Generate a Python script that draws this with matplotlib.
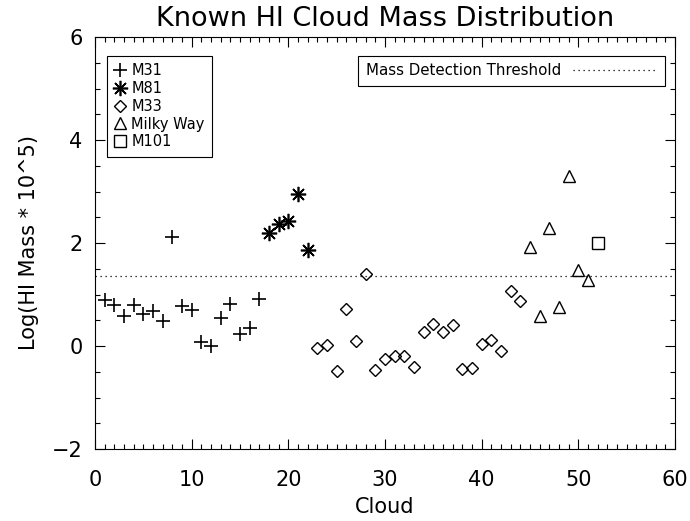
import matplotlib
matplotlib.use("Agg")
import matplotlib.pyplot as plt
from matplotlib.ticker import MultipleLocator

plt.rcParams['font.family'] = ['DejaVu Sans']
plt.rcParams['font.weight'] = 'normal'

# Data (cloud index, log mass)
m31_x = [1, 2, 3, 4, 5, 6, 7, 8, 9, 10, 11, 12, 13, 14, 15, 16, 17]
m31_y = [0.90, 0.80, 0.59, 0.80, 0.62, 0.68, 0.49, 2.12, 0.77, 0.70, 0.08, 0.00, 0.55, 0.81, 0.23, 0.35, 0.92]
m81_x = [18, 19, 20, 21, 22]
m81_y = [2.19, 2.37, 2.43, 2.95, 1.87]
m33_x = [23, 24, 25, 26, 27, 28, 29, 30, 31, 32, 33, 34, 35, 36, 37, 38, 39, 40, 41, 42, 43, 44]
m33_y = [-0.03, 0.02, -0.48, 0.72, 0.09, 1.39, -0.46, -0.25, -0.20, -0.19, -0.40, 0.27, 0.42, 0.27, 0.40,
         -0.44, -0.43, 0.04, 0.12, -0.10, 1.07, 0.88]
mw_x = [45, 46, 47, 48, 49, 50, 51]
mw_y = [1.93, 0.59, 2.30, 0.75, 3.30, 1.47, 1.29]
m101_x = [52]
m101_y = [2.00]
threshold = 1.35

title = "Known HI Cloud Mass Distribution"
xlabel = "Cloud"
ylabel = "Log(HI Mass * 10^5)"

fig = plt.figure(figsize=(6.9, 5.21), dpi=100)
ax = fig.add_axes([95/690, 1-449/521, 580/690, 412/521])

lw = 0.8
h1, = ax.plot(m31_x, m31_y, linestyle='none', marker='+', markersize=10, mew=1.2, color='black', label='M31')
h2, = ax.plot(m81_x, m81_y, linestyle='none', marker=(8, 2, 0), markersize=11, mew=1.2, color='black', label='M81')
h3, = ax.plot(m33_x, m33_y, linestyle='none', marker='D', markersize=6.5, mew=1.0, mfc='none', color='black', label='M33')
h4, = ax.plot(mw_x, mw_y, linestyle='none', marker='^', markersize=9, mew=1.0, mfc='none', color='black', label='Milky Way')
h5, = ax.plot(m101_x, m101_y, linestyle='none', marker='s', markersize=8, mew=1.0, mfc='none', color='black', label='M101')
hl = ax.axhline(threshold, color='black', linestyle=(0, (1, 3)), linewidth=0.9, label='Mass Detection Threshold')

ax.set_xlim(0, 60)
ax.set_ylim(-2, 6)
ax.xaxis.set_major_locator(MultipleLocator(10))
ax.xaxis.set_minor_locator(MultipleLocator(1))
ax.yaxis.set_major_locator(MultipleLocator(2))
ax.yaxis.set_minor_locator(MultipleLocator(0.5))
ax.tick_params(which='both', direction='in', top=True, right=True, width=lw, color='black')
ax.tick_params(which='major', length=7, labelsize=15, pad=9)
ax.tick_params(which='minor', length=3.5)
ax.tick_params(axis='x', which='major', pad=15)
for s in ax.spines.values():
    s.set_linewidth(lw)

ax.set_title(title, fontsize=19.5, pad=8)
ax.set_xlabel(xlabel, fontsize=15, labelpad=5)
ax.set_ylabel(ylabel, fontsize=15, labelpad=9)

leg1 = ax.legend(handles=[h1, h2, h3, h4, h5], loc='upper left', bbox_to_anchor=(0.020, 0.955),
                 borderaxespad=0, fancybox=False, edgecolor='black', framealpha=1, fontsize=10.5,
                 handlelength=0.8, handletextpad=0.4, labelspacing=0.2, borderpad=0.5)
leg1.get_frame().set_linewidth(lw)
ax.add_artist(leg1)
leg2 = ax.legend(handles=[hl], loc='upper right', bbox_to_anchor=(0.982, 0.955),
                 borderaxespad=0, fancybox=False, edgecolor='black', framealpha=1, fontsize=10.8,
                 markerfirst=False, handlelength=5.6, handletextpad=0.8, borderpad=0.5)
leg2.get_frame().set_linewidth(lw)

fig.savefig('out.png', dpi=100)
